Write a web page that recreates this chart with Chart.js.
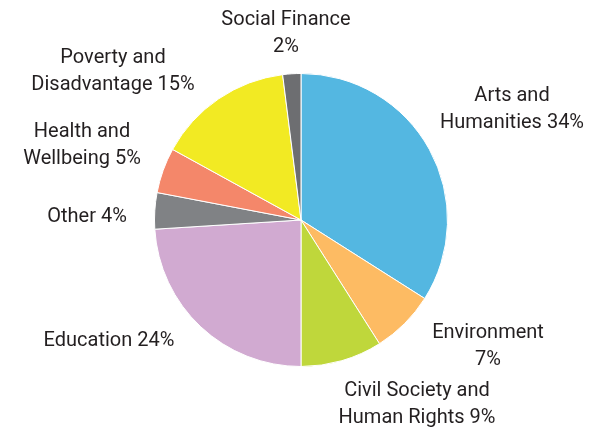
<!DOCTYPE html>
<html>
<head>
<meta charset="utf-8">
<script src="https://cdn.jsdelivr.net/npm/chart.js@4"></script>
<style>
  html, body { margin: 0; padding: 0; background: #fff; }
  #wrap { width: 598px; height: 427px; }
</style>
</head>
<body>
<div id="wrap"><canvas id="ctx" width="598" height="427"></canvas></div>
<script>
const categories = ["Arts and Humanities", "Environment", "Civil Society and Human Rights", "Education", "Other", "Health and Wellbeing", "Poverty and Disadvantage", "Social Finance"];
const shares = [34, 7, 9, 24, 4, 5, 15, 2];
const colores = ["#54b7e1", "#fdbb63", "#bfd73b", "#d1aad1", "#808285", "#f4876a", "#f2ea23", "#6d6e71"];
// label lines, as printed on the picture
const labelLines = [
  ["Arts and", "Humanities 34%"],
  ["Environment", "7%"],
  ["Civil Society and", "Human Rights 9%"],
  ["Education 24%"],
  ["Other 4%"],
  ["Health and", "Wellbeing 5%"],
  ["Poverty and", "Disadvantage 15%"],
  ["Social Finance", "2%"]
];
// label anchors, offset from the pie centre (first line middle)
const labelOffsets = [
  [211, -124], [187, 113], [116, 171], [-192, 121],
  [-214, -3], [-219, -88], [-188, -162], [-15, -200]
];

const labelsPlugin = {
  id: "sliceLabels",
  afterDraw(chart) {
    const c = chart.ctx;
    const arc = chart.getDatasetMeta(0).data[0];
    const cx = arc.x, cy = arc.y;
    c.save();
    c.font = "20px Roboto";
    c.fillStyle = "#231f20";
    c.textAlign = "center";
    c.textBaseline = "middle";
    labelLines.forEach((lines, i) => {
      lines.forEach((t, j) => {
        c.fillText(t, cx + labelOffsets[i][0], cy + labelOffsets[i][1] + j * 26.5);
      });
    });
    c.restore();
  }
};

const pintarGrafica = () => {
  new Chart(document.getElementById("ctx").getContext("2d"), {
    type: "pie",
    data: {
      labels: categories,
      datasets: [{
        data: shares,
        backgroundColor: colores,
        borderColor: "#ffffff",
        borderWidth: 1
      }]
    },
    options: {
      responsive: false,
      animation: false,
      devicePixelRatio: 1,
      layout: { padding: { left: 154, right: 150, top: 73, bottom: 60 } },
      plugins: { legend: { display: false }, tooltip: { enabled: false } }
    },
    plugins: [labelsPlugin]
  });
};

window.addEventListener("load", pintarGrafica);
</script>
</body>
</html>
